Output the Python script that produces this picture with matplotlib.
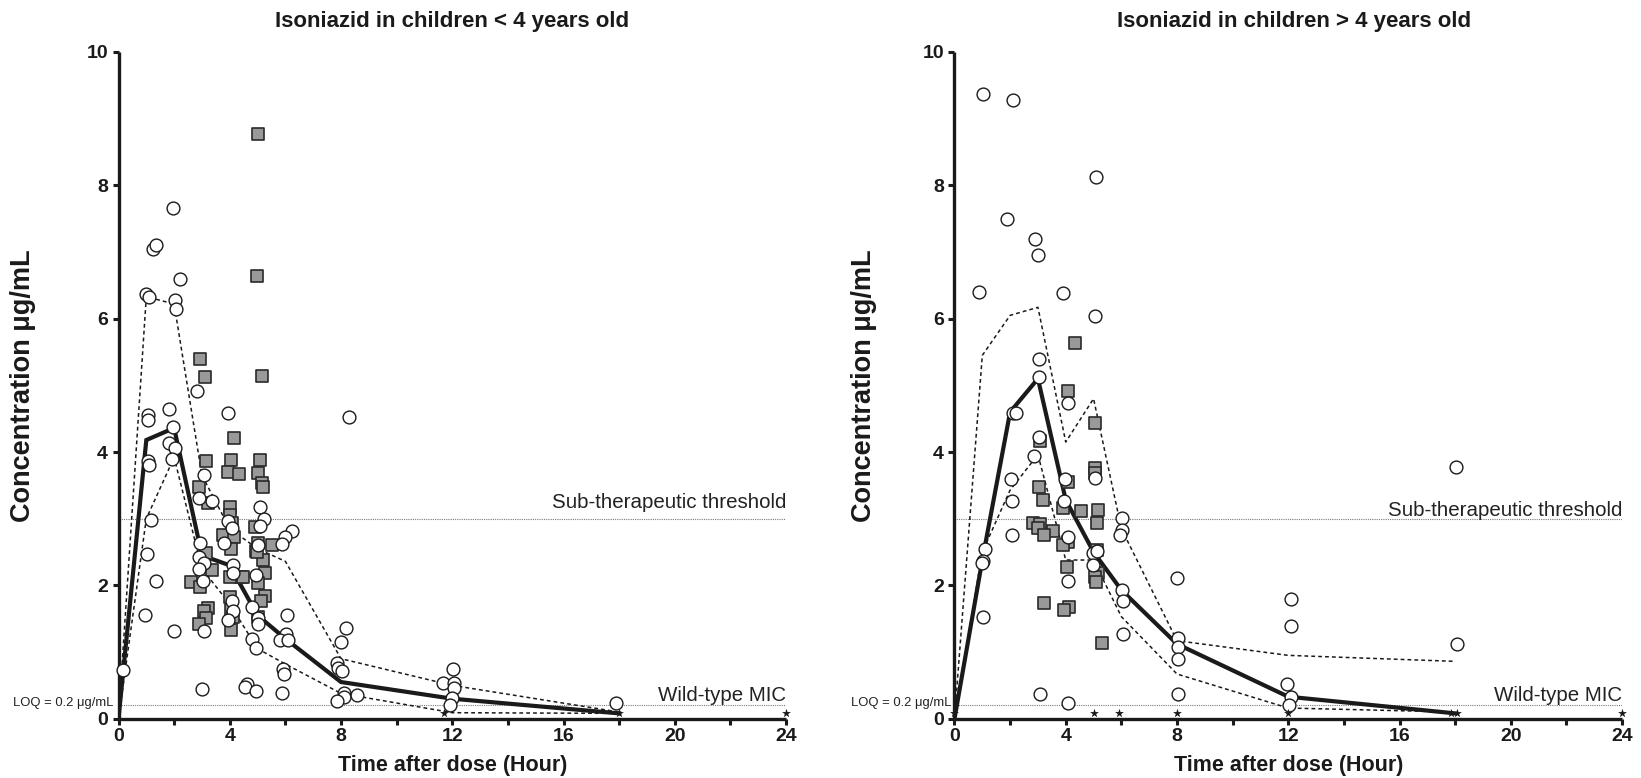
import matplotlib
matplotlib.use("Agg")
import matplotlib.pyplot as plt
from matplotlib.ticker import MultipleLocator

# ---------------- data ----------------
times = [0, 1, 2, 3, 4, 5, 6, 8, 12, 18]

left_median = [0, 4.18, 4.36, 2.45, 2.30, 1.55, 1.20, 0.55, 0.30, 0.08]
left_upper = [0, 6.33, 6.22, 3.65, 2.85, 2.55, 2.36, 0.90, 0.50, 0.10]
left_lower = [0, 3.00, 3.92, 2.25, 1.72, 1.05, 0.82, 0.38, 0.09, 0.08]

right_median = [0, 2.38, 4.60, 5.10, 3.28, 2.50, 1.93, 1.12, 0.33, 0.08]
right_upper = [0, 5.45, 6.05, 6.17, 4.15, 4.80, 2.85, 1.17, 0.95, 0.86]
right_lower = [0, 2.50, 3.43, 3.96, 2.38, 2.38, 1.53, 0.67, 0.16, 0.10]

left_circ_x = [1.95, 1.25, 1.34, 2.21, 0.99, 1.10, 2.03, 2.08, 2.81, 1.05, 1.05, 1.82,
               3.95, 8.27, 1.95, 1.83, 2.03, 1.05, 1.10, 1.91, 3.08, 2.91, 3.35, 1.17,
               1.01, 1.34, 0.94, 2.93, 2.90, 3.08, 2.90, 3.05, 2.00, 5.09, 5.23, 5.09,
               3.95, 4.07, 6.23, 5.99, 5.87, 3.80, 5.03, 4.13, 4.10, 4.95, 0.17, 3.09,
               3.01, 4.07, 4.10, 3.95, 4.61, 4.55, 4.93, 4.79, 4.95, 4.81, 5.03, 5.03,
               6.05, 6.01, 5.81, 6.09, 5.93, 5.96, 5.89, 7.99, 8.18, 7.85, 7.88, 8.03,
               8.09, 8.12, 8.57, 7.85, 12.01, 11.68, 12.08, 12.08, 11.99, 11.92, 17.90]
left_circ_y = [7.66, 7.05, 7.10, 6.60, 6.37, 6.32, 6.28, 6.15, 4.92, 4.56, 4.48, 4.65,
               4.58, 4.52, 4.38, 4.13, 4.06, 3.87, 3.80, 3.89, 3.65, 3.31, 3.27, 2.98,
               2.47, 2.07, 1.56, 2.63, 2.43, 2.33, 2.24, 2.07, 1.32, 3.17, 3.00, 2.89,
               2.96, 2.86, 2.81, 2.72, 2.62, 2.64, 2.60, 2.30, 2.18, 2.16, 0.73, 1.31,
               0.45, 1.76, 1.61, 1.48, 0.52, 0.48, 0.42, 1.19, 1.06, 1.68, 1.51, 1.42,
               1.55, 1.27, 1.18, 1.18, 0.75, 0.67, 0.39, 1.15, 1.36, 0.83, 0.76, 0.72,
               0.38, 0.33, 0.36, 0.26, 0.74, 0.53, 0.53, 0.46, 0.31, 0.21, 0.23]

left_sq_x = [5.00, 4.99, 2.94, 3.10, 5.17, 4.14, 3.16, 4.05, 5.09, 3.93, 4.35, 5.01,
             5.15, 5.19, 2.91, 3.23, 4.01, 4.01, 4.07, 4.89, 3.77, 4.17, 4.05, 5.01,
             4.95, 5.51, 5.19, 5.27, 5.01, 4.40, 4.01, 3.15, 3.35, 2.61, 2.93, 4.01,
             5.27, 3.23, 3.08, 3.15, 2.91, 4.05, 4.13, 4.05, 4.49, 5.13, 5.01, 4.97]
left_sq_y = [8.77, 6.64, 5.39, 5.12, 5.14, 4.21, 3.86, 3.88, 3.88, 3.70, 3.67, 3.68,
             3.53, 3.47, 3.48, 3.23, 3.17, 3.06, 2.94, 2.87, 2.76, 2.73, 2.54, 2.64,
             2.52, 2.61, 2.38, 2.19, 2.04, 2.13, 2.13, 2.49, 2.23, 2.05, 1.98, 1.83,
             1.84, 1.66, 1.62, 1.51, 1.42, 1.63, 1.53, 1.33, 2.12, 1.76, 1.53, 2.50]

right_circ_x = [1.01, 2.09, 5.08, 1.88, 2.90, 3.01, 0.88, 3.91, 5.06, 3.05, 3.05, 4.09,
                2.09, 2.21, 3.05, 2.87, 2.03, 3.97, 5.05, 2.06, 3.95, 6.04, 6.01, 5.95,
                2.06, 4.07, 1.10, 1.04, 0.98, 4.97, 5.12, 4.97, 4.07, 6.01, 6.07, 1.01,
                6.05, 7.99, 8.05, 8.05, 8.05, 8.03, 3.08, 4.09, 18.02, 18.06, 12.09,
                12.09, 11.97, 12.09, 12.04]
right_circ_y = [9.37, 9.28, 8.12, 7.50, 7.20, 6.96, 6.40, 6.38, 6.04, 5.40, 5.12, 4.73,
                4.59, 4.59, 4.23, 3.94, 3.60, 3.59, 3.61, 3.26, 3.26, 3.01, 2.83, 2.76,
                2.76, 2.73, 2.54, 2.37, 2.33, 2.48, 2.52, 2.31, 2.07, 1.93, 1.77, 1.53,
                1.27, 2.11, 1.21, 1.08, 0.89, 0.37, 0.37, 0.23, 3.78, 1.12, 1.80,
                1.39, 0.52, 0.33, 0.21]

right_sq_x = [4.33, 4.07, 5.05, 3.08, 3.05, 3.17, 4.09, 5.05, 5.05, 3.91, 4.55, 5.15,
              5.12, 2.83, 3.08, 3.01, 3.55, 3.23, 4.09, 3.91, 5.14, 5.17, 5.05, 5.09,
              4.04, 3.23, 4.12, 3.95, 5.30]
right_sq_y = [5.63, 4.91, 4.44, 4.16, 3.47, 3.28, 3.55, 3.76, 3.69, 3.16, 3.12, 3.13,
              2.94, 2.93, 2.92, 2.86, 2.81, 2.76, 2.65, 2.60, 2.53, 2.19, 2.12, 2.05,
              2.27, 1.73, 1.67, 1.63, 1.13]

left_star_x = [11.70, 18.0, 24.0]
right_star_x = [0.0, 5.0, 5.9, 8.0, 12.0, 17.85, 18.05, 24.0]
star_y = 0.08

sub_threshold = 3.0
loq = 0.2

titles = ["Isoniazid in children < 4 years old", "Isoniazid in children > 4 years old"]
xlabel = "Time after dose (Hour)"
ylabel = "Concentration \u03bcg/mL"
xticks = [0, 4, 8, 12, 16, 20, 24]
yticks = [0, 2, 4, 6, 8, 10]

# ---------------- fonts ----------------
fam = ["Liberation Sans", "DejaVu Sans"]
INK = "#1a1a1a"

W, H = 1641, 778
fig = plt.figure(figsize=(W / 100, H / 100), dpi=100)

ax_l = fig.add_axes([118.5 / W, 59.3 / H, 667.5 / W, 666.7 / H])
ax_r = fig.add_axes([954.5 / W, 59.3 / H, 667.5 / W, 666.7 / H])

panels = [
    (ax_l, left_median, left_upper, left_lower, left_circ_x, left_circ_y,
     left_sq_x, left_sq_y, left_star_x, titles[0], 0.5, 11, 4, -5),
    (ax_r, right_median, right_upper, right_lower, right_circ_x, right_circ_y,
     right_sq_x, right_sq_y, right_star_x, titles[1], 0.508, 2.5, 4, -3),
]

for (ax, med, up, lo, cx, cy, sx, sy, stx, title, tx, sub_off, mic_off, loq_off) in panels:
    ax.set_xlim(0, 24)
    ax.set_ylim(0, 10)
    for s in ["top", "right"]:
        ax.spines[s].set_visible(False)
    for s in ["left", "bottom"]:
        ax.spines[s].set_linewidth(2.4)
        ax.spines[s].set_color(INK)
        ax.spines[s].set_capstyle("butt")

    # reference lines
    ax.plot([0, 24], [sub_threshold, sub_threshold], color="#7a7a7a", lw=0.8,
            ls=(0, (1, 1)), zorder=1)
    ax.plot([0, 24], [loq, loq], color="#7a7a7a", lw=0.8, ls=(0, (1, 1)), zorder=1)

    # percentile lines
    ax.plot(times, up, color=INK, lw=1.1, ls=(0, (2.5, 2)), zorder=2)
    ax.plot(times, lo, color=INK, lw=1.1, ls=(0, (2.5, 2)), zorder=2)
    ax.plot(times, med, color=INK, lw=3.0, solid_joinstyle="miter", zorder=3)

    # observations
    ax.scatter(sx, sy, marker="s", s=70, facecolor="#999999", edgecolor="#2a2a2a",
               linewidths=1.2, zorder=4, clip_on=False)
    ax.scatter(cx, cy, marker="o", s=85, facecolor="white", edgecolor=INK,
               linewidths=1.0, zorder=5, clip_on=False)
    ax.scatter(stx, [star_y] * len(stx), marker="*", s=45, color=INK,
               linewidths=0, zorder=6, clip_on=False)

    # annotations
    ax.annotate("Sub-therapeutic threshold", xy=(24, sub_threshold),
                xytext=(0, sub_off * 0.72), textcoords="offset points",
                ha="right", va="baseline", fontsize=14.8, family=fam, color="#222222")
    ax.annotate("Wild-type MIC", xy=(24, loq), xytext=(0, mic_off * 0.72),
                textcoords="offset points", ha="right", va="baseline",
                fontsize=14.8, family=fam, color="#222222")
    ax.annotate("LOQ = 0.2 \u03bcg/mL", xy=(0, loq), xytext=(loq_off * 0.72, -0.5),
                textcoords="offset points", ha="right", va="baseline",
                fontsize=9.4, family=fam, color="#222222", annotation_clip=False)

    # ticks
    ax.set_xticks(xticks)
    ax.xaxis.set_minor_locator(MultipleLocator(2))
    ax.set_yticks(yticks)
    ax.tick_params(axis="both", which="both", direction="out", length=4.0, width=2.2,
                   color=INK)
    ax.tick_params(axis="x", which="major", pad=2.5)
    ax.tick_params(axis="y", which="major", pad=3.5)
    for lab in ax.get_xticklabels() + ax.get_yticklabels():
        lab.set_fontfamily(fam)
        lab.set_fontweight("bold")
        lab.set_fontsize(14)
        lab.set_color(INK)

    ax.set_title(title, x=tx, fontsize=16, fontweight="bold", family=fam,
                 pad=18, color=INK)
    ax.set_xlabel(xlabel, fontsize=15.5, fontweight="bold", family=fam, color=INK)
    ax.set_ylabel(ylabel, fontsize=19.5, fontweight="bold", family=fam, color=INK)
    ax.xaxis.set_label_coords(0.5, -47.3 / 666.7)
    ax.xaxis.label.set_va("center")

ax_l.yaxis.set_label_coords((23 - 118.5) / 667.5, 0.5)
ax_r.yaxis.set_label_coords((864 - 954.5) / 667.5, 0.5)
ax_l.yaxis.label.set_va("center")
ax_r.yaxis.label.set_va("center")

fig.savefig("out.png", dpi=100)
